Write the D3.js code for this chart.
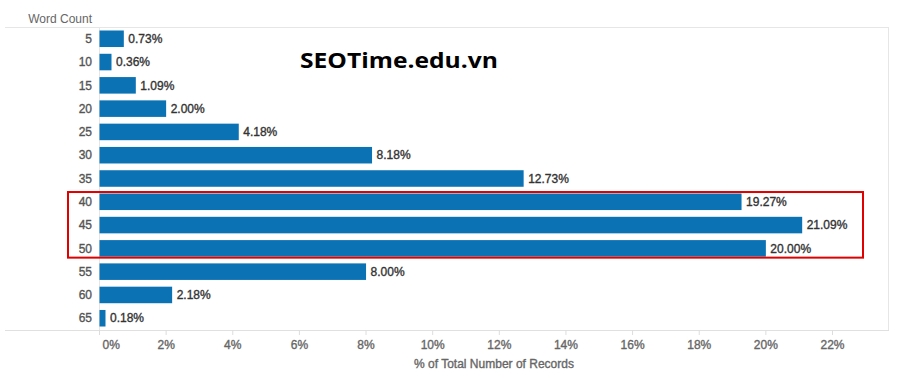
<!DOCTYPE html>
<html><head><meta charset="utf-8">
<script src="https://cdn.jsdelivr.net/npm/d3@7"></script>
<style>
body{margin:0;background:#fff;}
svg{display:block;font-family:Arial,"Liberation Sans",sans-serif;}
.thick{stroke-width:0.35px;paint-order:stroke;}
</style></head>
<body>
<script>
const categories = ["5","10","15","20","25","30","35","40","45","50","55","60","65"];
const values = [0.73,0.36,1.09,2.00,4.18,8.18,12.73,19.27,21.09,20.00,8.00,2.18,0.18];
const tickValues = [0,2,4,6,8,10,12,14,16,18,20,22];
const highlighted = ["40","45","50"];

const W=920,H=381;
const svg=d3.select("body").append("svg").attr("width",W).attr("height",H);
const x=d3.scaleLinear().domain([0,22]).range([99,832]);
const y=d3.scaleBand().domain(categories).range([27,330]).paddingInner(0.29).paddingOuter(0.15);

// frame
svg.append("line").attr("x1",5).attr("x2",889).attr("y1",27.5).attr("y2",27.5).attr("stroke","#e6e6e6");
svg.append("line").attr("x1",5).attr("x2",889).attr("y1",330.5).attr("y2",330.5).attr("stroke","#e0e0e0");
svg.append("line").attr("x1",888.5).attr("x2",888.5).attr("y1",27).attr("y2",330).attr("stroke","#e6e6e6");
svg.append("line").attr("x1",99.5).attr("x2",99.5).attr("y1",27).attr("y2",330).attr("stroke","#e6e6e6");

svg.append("text").attr("x",92).attr("y",23).attr("text-anchor","end").attr("font-size",12).attr("fill","#666").text("Word Count");

// x axis
const ax=svg.append("g").attr("transform","translate(0,330)")
 .call(d3.axisBottom(x).tickValues(tickValues).tickFormat(d=>d+"%").tickSize(5).tickSizeOuter(0));
ax.select(".domain").remove();
ax.selectAll(".tick line").attr("stroke","#ddd");
ax.selectAll(".tick text").attr("fill","#666").attr("stroke","#666").attr("class","thick").attr("font-size",12).attr("dy","0.95em").attr("font-family","Arial, Liberation Sans, sans-serif");
ax.selectAll(".tick").filter(d=>d===0).select("text").attr("text-anchor","start").attr("x",3);
svg.append("text").attr("x",494).attr("y",368).attr("text-anchor","middle").attr("font-size",12).attr("fill","#666").attr("stroke","#666").attr("class","thick").text("% of Total Number of Records");

// y labels
svg.selectAll(".cat").data(categories).join("text").attr("class","cat thick")
 .attr("x",92).attr("y",d=>y(d)+y.bandwidth()/2).attr("dy","0.35em")
 .attr("text-anchor","end").attr("font-size",12).attr("fill","#555").attr("stroke","#555").text(d=>d);

// bars
const data=categories.map((c,i)=>({c,v:values[i]}));
svg.selectAll(".bar").data(data).join("rect").attr("class","bar")
 .attr("x",x(0)+0.5).attr("y",d=>y(d.c)).attr("width",d=>x(d.v)-x(0)).attr("height",y.bandwidth())
 .attr("fill","#0b72b4");
svg.selectAll(".val").data(data).join("text").attr("class","val thick")
 .attr("x",d=>x(d.v)+5).attr("y",d=>y(d.c)+y.bandwidth()/2).attr("dy","0.35em")
 .attr("font-size",12).attr("fill","#333").attr("stroke","#333").text(d=>d.v.toFixed(2)+"%");

// highlight box
const y0=y(highlighted[0]), y1=y(highlighted[highlighted.length-1])+y.bandwidth();
svg.append("rect").attr("x",68).attr("y",y0-1.5).attr("width",795).attr("height",y1-y0+2.5)
 .attr("fill","none").attr("stroke","#e00000").attr("stroke-width",2);

// watermark
svg.append("text").attr("x",300).attr("y",68).attr("font-family","'Open Sans',sans-serif").attr("font-weight","bold")
 .attr("font-size",22).attr("fill","#000").attr("textLength",198).attr("lengthAdjust","spacingAndGlyphs").text("SEOTime.edu.vn");
</script>
</body></html>
